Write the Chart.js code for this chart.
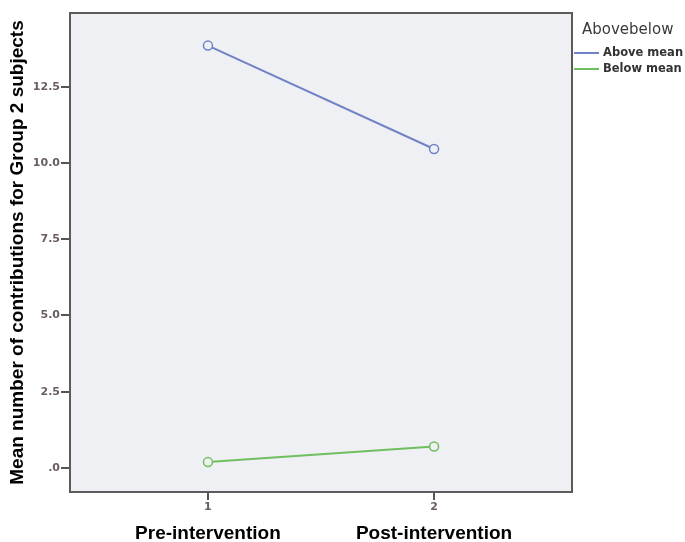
<!DOCTYPE html>
<html lang="en">
<head>
    <meta charset="UTF-8">
    <title>Mean number of contributions</title>
    <script src="https://cdn.jsdelivr.net/npm/chart.js"></script>
    <style>
        body { margin: 0; background: #fff; }
        #wrap { width: 685px; height: 542px; }
    </style>
</head>
<body>
<div id="wrap"><canvas id="meanChart"></canvas></div>
<script>
    // time points (x) and their names
    const timePoints = [1, 2];
    const phaseNames = ['Pre-intervention', 'Post-intervention'];
    // group means
    const aboveMean = [13.85, 10.46];
    const belowMean = [0.19, 0.70];
    const yTicks = [0, 2.5, 5, 7.5, 10, 12.5];

    // plot background and frame
    const framePlugin = {
        id: 'frame',
        beforeDatasetsDraw(chart) {
            const a = chart.chartArea, c = chart.ctx;
            c.save();
            c.fillStyle = '#eef0f3';
            c.fillRect(a.left, a.top, a.right - a.left, a.bottom - a.top);
            c.restore();
        },
        afterDraw(chart) {
            const a = chart.chartArea, c = chart.ctx;
            c.save();
            c.strokeStyle = '#5b5b5b';
            c.lineWidth = 2;
            c.strokeRect(a.left, a.top, a.right - a.left, a.bottom - a.top);

            // legend on the right
            c.fillStyle = '#3a3a3a';
            c.font = '15px "DejaVu Sans", sans-serif';
            c.textBaseline = 'middle';
            c.fillText('Abovebelow', a.right + 10, 30);
            c.fillStyle = '#333';
            c.font = 'bold 11.5px "DejaVu Sans", sans-serif';
            chart.data.datasets.forEach((ds, i) => {
                const y = 53 + i * 16;
                c.strokeStyle = ds.borderColor;
                c.lineWidth = 2;
                c.beginPath();
                c.moveTo(a.right + 2, y);
                c.lineTo(a.right + 27, y);
                c.stroke();
                c.fillText(ds.label, a.right + 31, y);
            });
            c.restore();
        }
    };

    const tickFont = { size: 11, weight: 'bold', family: '"DejaVu Sans"' };

    const ctx = document.getElementById('meanChart').getContext('2d');
    new Chart(ctx, {
        type: 'line',
        data: {
            datasets: [{
                label: 'Above mean',
                data: timePoints.map((t, i) => ({ x: t, y: aboveMean[i] })),
                borderColor: '#7282c6',
                backgroundColor: '#eef0f3',
                borderWidth: 2,
                pointRadius: 4.5,
                pointBorderWidth: 1.5
            }, {
                label: 'Below mean',
                data: timePoints.map((t, i) => ({ x: t, y: belowMean[i] })),
                borderColor: '#6fbf5f',
                backgroundColor: '#eef0f3',
                borderWidth: 2,
                pointRadius: 4.5,
                pointBorderWidth: 1.5
            }]
        },
        options: {
            responsive: true,
            maintainAspectRatio: false,
            animation: false,
            layout: { padding: { top: 13, right: 113, left: 0, bottom: 0 } },
            plugins: {
                legend: { display: false },
                tooltip: { enabled: false }
            },
            scales: {
                x: {
                    type: 'linear',
                    min: 0.39,
                    max: 2.61,
                    afterBuildTicks: s => { s.ticks = timePoints.map(v => ({ value: v })); },
                    afterFit: s => { s.height = 22; },
                    grid: { drawOnChartArea: false, tickLength: 8, tickColor: '#555', lineWidth: 2 },
                    border: { display: false },
                    ticks: { color: '#6a5e5e', font: tickFont, padding: 1 }
                },
                x2: {
                    type: 'linear',
                    position: 'bottom',
                    min: 0.39,
                    max: 2.61,
                    afterBuildTicks: s => { s.ticks = timePoints.map(v => ({ value: v })); },
                    afterFit: s => { s.height = 28; },
                    grid: { display: false },
                    border: { display: false },
                    ticks: {
                        color: '#000',
                        font: { size: 19, weight: 'bold', family: '"Liberation Sans", Arial' },
                        padding: 0,
                        callback: v => phaseNames[timePoints.indexOf(v)]
                    }
                },
                y: {
                    min: -0.79,
                    max: 14.92,
                    afterBuildTicks: s => { s.ticks = yTicks.map(v => ({ value: v })); },
                    afterFit: s => { s.width = 70; },
                    grid: { drawOnChartArea: false, tickLength: 9, tickColor: '#555', lineWidth: 2 },
                    border: { display: false },
                    ticks: {
                        color: '#6a5e5e',
                        font: tickFont,
                        padding: 1,
                        callback: v => v === 0 ? '.0' : v.toFixed(1)
                    },
                    title: {
                        display: true,
                        text: 'Mean number of contributions for Group 2 subjects',
                        color: '#000',
                        font: { size: 19, weight: 'bold', family: '"Liberation Sans", Arial' },
                        padding: { top: 6, bottom: 0 }
                    }
                }
            }
        },
        plugins: [framePlugin]
    });
</script>
</body>
</html>
